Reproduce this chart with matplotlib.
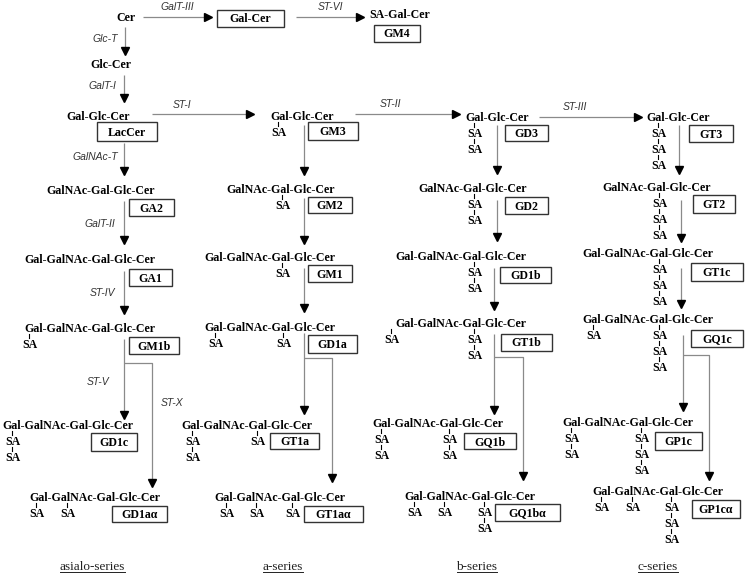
import matplotlib.pyplot as plt
from matplotlib.patches import Rectangle

# boxed ganglioside names and their glycan chains
box_names = ['LacCer', 'GA2', 'GA1', 'GM1b', 'GD1c', 'GD1a\u03b1',
             'GM3', 'GM2', 'GM1', 'GD1a', 'GT1a', 'GT1a\u03b1',
             'GD3', 'GD2', 'GD1b', 'GT1b', 'GQ1b', 'GQ1b\u03b1',
             'GT3', 'GT2', 'GT1c', 'GQ1c', 'GP1c', 'GP1c\u03b1']
chains = ['Gal-Glc-Cer', 'GalNAc-Gal-Glc-Cer'] + ['Gal-GalNAc-Gal-Glc-Cer'] * 4 + \
         ['Gal-Glc-Cer', 'GalNAc-Gal-Glc-Cer'] + ['Gal-GalNAc-Gal-Glc-Cer'] * 4 + \
         ['Gal-Glc-Cer', 'GalNAc-Gal-Glc-Cer'] + ['Gal-GalNAc-Gal-Glc-Cer'] * 4 + \
         ['Gal-Glc-Cer', 'GalNAc-Gal-Glc-Cer'] + ['Gal-GalNAc-Gal-Glc-Cer'] * 4
# number of sialic acids hanging under each chain (one number per branch point)
sa_counts = [[], [], [], [1], [2], [1, 1],
             [1], [1], [1], [1, 1], [2, 1], [1, 1, 1],
             [2], [2], [2], [1, 2], [2, 2], [1, 1, 2],
             [3], [3], [3], [1, 3], [2, 3], [1, 1, 3]]
top_names = ['Cer', 'Gal-Cer', 'SA-Gal-Cer', 'GM4', 'Glc-Cer']
enzymes = ['GalT-III', 'ST-VI', 'Glc-T', 'GalT-I', 'ST-I', 'ST-II', 'ST-III',
           'GalNAc-T', 'GalT-II', 'ST-IV', 'ST-V', 'ST-X']
series = ['asialo-series', 'a-series', 'b-series', 'c-series']

# layout (pixel coordinates, y = centre of the capitals)
chain_xy = [(98, 116), (101, 190), (90, 259), (90, 328), (68, 425), (95, 497),
            (302, 116), (281, 189), (270, 257), (270, 327), (247, 425), (280, 497),
            (497, 117), (473, 188), (461, 256), (461, 323), (438, 423), (470, 496),
            (678, 117), (657, 187), (648, 253), (648, 319), (628, 422), (658, 491)]
boxes = [(97, 122, 157, 141), (129, 199, 174, 216), (129, 269, 172, 286),
         (129, 337, 179, 354), (91, 433, 137, 451), (112, 506, 167, 522),
         (308, 122, 358, 140), (308, 197, 352, 213), (308, 265, 352, 282),
         (308, 335, 357, 353), (270, 433, 319, 449), (304, 506, 363, 522),
         (505, 125, 548, 141), (505, 197, 548, 214), (500, 267, 551, 283),
         (501, 334, 552, 351), (464, 433, 516, 449), (495, 504, 560, 521),
         (689, 125, 733, 142), (693, 195, 735, 213), (691, 263, 743, 281),
         (691, 330, 743, 347), (655, 432, 702, 450), (692, 500, 740, 518)]
sa_xs = [[], [], [], [30], [13], [37, 68],
         [279], [283], [283], [216, 284], [193, 258], [227, 257, 293],
         [475], [475], [475], [392, 475], [382, 450], [415, 445, 485],
         [659], [660], [660], [594, 660], [572, 642], [602, 633, 672]]
top_xy = [(126, 17), (250, 18), (400, 14), (397, 33), (111, 64)]
top_boxes = [(217, 10, 284, 27), (374, 25, 420, 42)]
enzyme_xy = [(177, 7), (330, 7), (105, 39), (102, 86), (182, 105), (390, 104),
             (575, 107), (95, 157), (100, 224), (102, 293), (98, 382), (172, 403)]
series_x = [92, 283, 477, 658]

arrows = [
    [(143, 17), (208, 17)], [(296, 17), (360, 17)],
    [(125, 27), (125, 51)], [(124, 75), (124, 98)],
    [(152, 114), (250, 114)], [(355, 114), (456, 114)], [(539, 117), (638, 117)],
    [(124, 143), (124, 171)], [(124, 201), (124, 240)], [(124, 271), (124, 310)],
    [(124, 339), (124, 415)], [(124, 363), (152, 363), (152, 483)],
    [(304, 125), (304, 171)], [(304, 198), (304, 240)], [(304, 268), (304, 308)],
    [(304, 333), (304, 410)], [(304, 358), (332, 358), (332, 478)],
    [(497, 125), (497, 170)], [(497, 200), (497, 237)], [(494, 268), (494, 306)],
    [(494, 334), (494, 410)], [(494, 357), (523, 357), (523, 476)],
    [(679, 125), (679, 170)], [(681, 200), (681, 238)], [(681, 268), (681, 304)],
    [(683, 335), (683, 407)], [(683, 355), (709, 355), (709, 476)],
]

bold = dict(family='Liberation Serif', fontweight='bold', fontsize=8.6, color='black')
ital = dict(family='Liberation Sans', fontstyle='italic', fontsize=7.5, color='#333333')

fig = plt.figure(figsize=(7.47, 5.77), dpi=100)
ax = fig.add_axes([0, 0, 1, 1])
ax.set_xlim(0, 747)
ax.set_ylim(577, 0)
ax.axis('off')


def btext(x, y, s):
    # baseline sits ~4 px below the middle of the capitals
    ax.text(x, y + 4, s, ha='center', va='baseline', **bold)


def draw_box(x0, y0, x1, y1, label=None):
    ax.add_patch(Rectangle((x0, y0), x1 - x0, y1 - y0, fill=False,
                           edgecolor='#333333', lw=1.0))
    if label:
        btext((x0 + x1) / 2, (y0 + y1) / 2, label)


def draw_sa(x, y, n):
    for k in range(n):
        yy = y + 16 * k
        ax.plot([x - 1, x - 1], [yy - 10, yy - 6], color='black', lw=0.8)
        btext(x, yy, 'SA')


# arrows
for pts in arrows:
    xs = [p[0] for p in pts]
    ys = [p[1] for p in pts]
    ax.plot(xs, ys, color='#8a8a8a', lw=0.9, solid_capstyle='butt')
    mk = '>' if ys[-1] == ys[-2] else 'v'
    ax.plot(xs[-1], ys[-1], marker=mk, ms=5.5, color='black', mec='black')

# top row
for name, (x, y) in zip(top_names, top_xy):
    btext(x, y, name)
for b in top_boxes:
    draw_box(*b)

# ganglioside chains, boxes, sialic acids
for name, chain, (cx, cy), b, xs, ns in zip(box_names, chains, chain_xy, boxes, sa_xs, sa_counts):
    btext(cx, cy, chain)
    draw_box(*b, label=name)
    for x, n in zip(xs, ns):
        draw_sa(x, cy + 16, n)

# enzyme labels
for e, (x, y) in zip(enzymes, enzyme_xy):
    ax.text(x, y, e, ha='center', va='center', **ital)

# series names, underlined
for s, x in zip(series, series_x):
    ax.text(x, 570, s, ha='center', va='baseline', family='Liberation Serif',
            fontsize=9.5, color='#222222')
    w = 65 if s == 'asialo-series' else 40
    ax.plot([x - w / 2, x + w / 2], [572, 572], color='#222222', lw=0.7)

fig.savefig('out.png', dpi=100)
